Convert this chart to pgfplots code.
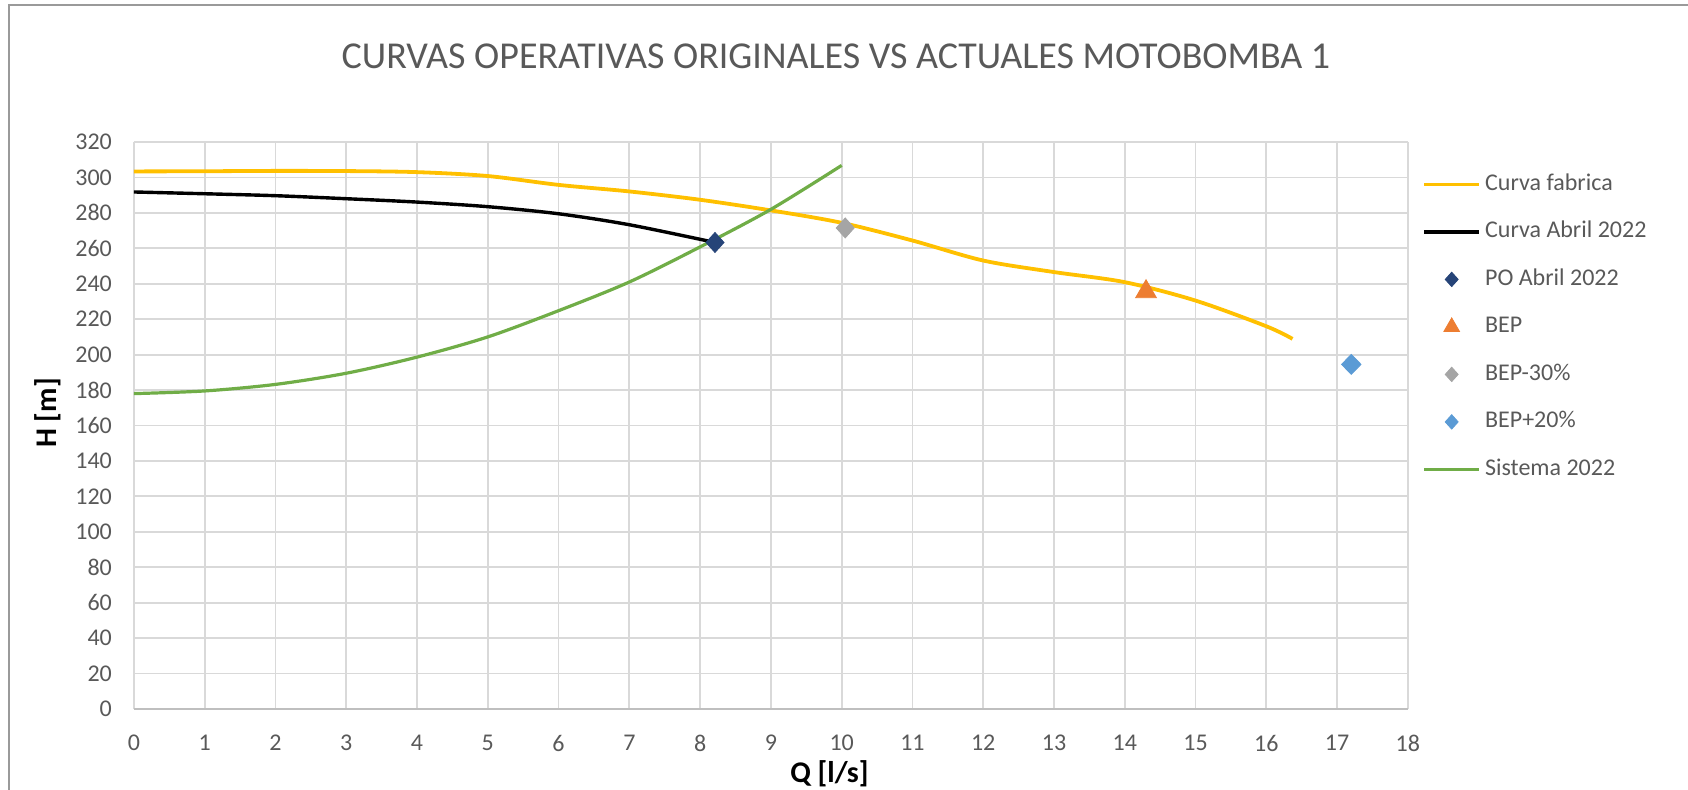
\documentclass[border=0pt]{standalone}
\usepackage{fontspec}
\setmainfont{Carlito}
\usepackage{pgfplots}
\pgfplotsset{compat=1.18}
\definecolor{cgrid}{HTML}{D9D9D9}
\definecolor{ctext}{HTML}{595959}
\definecolor{cyel}{HTML}{FFC000}
\definecolor{cgreen}{HTML}{70AD47}
\definecolor{corange}{HTML}{ED7D31}
\definecolor{cgray}{HTML}{A5A5A5}
\definecolor{clblue}{HTML}{5B9BD5}
\definecolor{cdblue}{HTML}{264478}
\definecolor{cframe}{HTML}{9A9A9A}
\definecolor{cax}{HTML}{BFBFBF}
\begin{document}
\begin{tikzpicture}
\useasboundingbox (0,0) rectangle (844pt,394.5pt);
\draw[cframe, line width=0.9pt] (4.5pt,-2pt) -- (4.5pt,392pt) -- (846pt,392pt);
\node[text=ctext, font=\fontsize{19}{23}\selectfont] at (418pt,366.5pt) {CURVAS OPERATIVAS ORIGINALES VS ACTUALES MOTOBOMBA 1};
\begin{axis}[
 scale only axis, width=637pt, height=283.5pt,
 at={(66.95pt,40pt)}, anchor=south west,
 xmin=0, xmax=18, ymin=0, ymax=320,
 xtick={0,1,...,18}, ytick={0,20,...,320},
 grid=major, grid style={cgrid, line width=0.9pt},
 axis line style={draw=none},
 major tick length=0pt,
 tick label style={font=\fontsize{12}{14}\selectfont, text=ctext},
 /pgf/number format/assume math mode=true,
 xticklabel style={anchor=center, yshift=-17pt},
 yticklabel style={anchor=east, xshift=-7.5pt},
 xlabel={Q [l/s]}, ylabel={H [m]},
 label style={font=\bfseries\fontsize{15}{18}\selectfont, text=black},
 xlabel style={at={(axis description cs:0.546,-0.1146)}, anchor=center},
 ylabel style={at={(axis description cs:-0.068,0.522)}, anchor=center},
 legend cell align=left,
 legend image code/.code={\draw[mark repeat=2,mark phase=2,#1] plot coordinates {(0pt,0pt) (13.75pt,0pt) (27.5pt,0pt)};},
 legend style={draw=none, fill=none, at={(axis description cs:1,1)}, anchor=north west,
   xshift=7pt, yshift=-15.5pt, inner sep=0pt, row sep=12.75pt,
   font=\fontsize{12}{14}\selectfont, text=ctext,
   nodes={inner sep=0pt, text height=8.5pt, text depth=2.5pt},
   /tikz/every odd column/.append style={column sep=2pt}},
]
\draw[cax, line width=1pt] (axis cs:0,0) -- (axis cs:18,0);
\addplot[cyel, line width=1.9pt, smooth] coordinates {
(0,303.4) (1,303.5) (2,303.7) (3,303.6) (4,303.0) (5,300.8) (6,295.8) (7,292.1) (8,287.4)
(9,281.4) (10,274.4) (11,264.4) (12,253.1) (13,246.6) (14,240.9) (15,230.5) (16,216.0) (16.37,208.9)};
\addlegendentry{Curva fabrica}
\addplot[black, line width=1.7pt, smooth] coordinates {
(0,291.8) (1,290.8) (2,289.7) (3,288.0) (4,286.1) (5,283.5) (6,279.5) (7,273.3) (8.21,263.3)};
\addlegendentry{Curva Abril 2022}
\addplot[only marks, mark=diamond*, mark size=5pt, color=cdblue, mark options={xscale=1.2},
  legend image post style={mark options={scale=0.72,xscale=1.2}}] coordinates {(8.21,263.3)};
\addlegendentry{PO Abril 2022}
\addplot[only marks, mark=triangle*, mark size=6pt, color=corange,
  legend image post style={mark options={scale=0.75}}] coordinates {(14.3,235.5)};
\addlegendentry{BEP}
\addplot[only marks, mark=diamond*, mark size=5pt, color=cgray, mark options={xscale=1.2},
  legend image post style={mark options={scale=0.72,xscale=1.2}}] coordinates {(10.05,271.5)};
\addlegendentry{BEP-30\%}
\addplot[only marks, mark=diamond*, mark size=5pt, color=clblue, mark options={xscale=1.3},
  legend image post style={mark options={scale=0.72,xscale=1.2}}] coordinates {(17.2,194.5)};
\addlegendentry{BEP+20\%}
\addplot[cgreen, line width=1.6pt, smooth] coordinates {
(0,178) (1,179.5) (2,183.2) (3,189.5) (4,198.6) (5,210) (6,224.8) (7,241) (8,260.8) (9,282) (10,306.8)};
\addlegendentry{Sistema 2022}
\end{axis}
\end{tikzpicture}
\end{document}
